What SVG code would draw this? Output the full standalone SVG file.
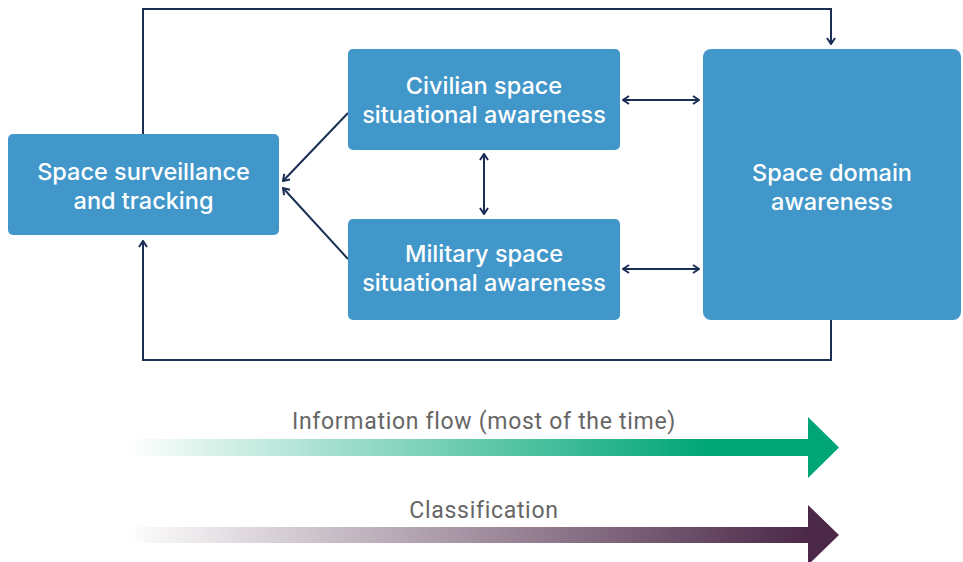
<svg xmlns="http://www.w3.org/2000/svg" width="963" height="562" viewBox="0 0 963 562">
<defs>
<style>
.node{fill:#4297ca;}
.lbl{font-family:Inter,Roboto,"Liberation Sans",sans-serif;font-weight:500;font-size:23.5px;fill:#ffffff;text-anchor:middle;}
.conn{fill:none;stroke:#1b2f55;stroke-width:2;}
.cap{font-family:Roboto,"Liberation Sans",sans-serif;font-size:23px;letter-spacing:0.7px;fill:#666666;text-anchor:middle;}
</style>
<marker id="ah" viewBox="0 0 10 10" refX="9" refY="5" markerWidth="10" markerHeight="10" markerUnits="userSpaceOnUse" orient="auto-start-reverse">
<path d="M3,1 L9,5 L3,9" fill="none" stroke="#1b2f55" stroke-width="2"/>
</marker>
<linearGradient id="gGreen" x1="125" y1="0" x2="808" y2="0" gradientUnits="userSpaceOnUse">
<stop offset="0" stop-color="#00a676" stop-opacity="0"/>
<stop offset="0.85" stop-color="#00a676" stop-opacity="1"/>
<stop offset="1" stop-color="#00a676" stop-opacity="1"/>
</linearGradient>
<linearGradient id="gPurple" x1="125" y1="0" x2="808" y2="0" gradientUnits="userSpaceOnUse">
<stop offset="0" stop-color="#4b2847" stop-opacity="0"/>
<stop offset="1" stop-color="#4b2847" stop-opacity="1"/>
</linearGradient>
</defs>
<rect width="963" height="562" fill="#ffffff"/>
<g id="connectors">
<polyline class="conn" points="143,134 143,9 831,9 831,44" marker-end="url(#ah)"/>
<polyline class="conn" points="831,320 831,360 143,360 143,241" marker-end="url(#ah)"/>
<line class="conn" x1="623" y1="100" x2="699" y2="100" marker-start="url(#ah)" marker-end="url(#ah)"/>
<line class="conn" x1="623" y1="269" x2="699" y2="269" marker-start="url(#ah)" marker-end="url(#ah)"/>
<line class="conn" x1="484" y1="154" x2="484" y2="214" marker-start="url(#ah)" marker-end="url(#ah)"/>
<line class="conn" x1="348" y1="113" x2="283" y2="181" marker-end="url(#ah)"/>
<line class="conn" x1="348" y1="259" x2="283" y2="188" marker-end="url(#ah)"/>
</g>
<g id="node-sst">
<rect class="node" x="8" y="134" width="271" height="101" rx="5"/>
<text class="lbl" x="143.5" y="180">Space surveillance</text>
<text class="lbl" x="143.5" y="209">and tracking</text>
</g>
<g id="node-civ">
<rect class="node" x="348" y="49" width="272" height="101" rx="5"/>
<text class="lbl" x="484" y="94">Civilian space</text>
<text class="lbl" x="484" y="123">situational awareness</text>
</g>
<g id="node-mil">
<rect class="node" x="348" y="219" width="272" height="101" rx="5"/>
<text class="lbl" x="484" y="262">Military space</text>
<text class="lbl" x="484" y="291">situational awareness</text>
</g>
<g id="node-sda">
<rect class="node" x="703" y="49" width="258" height="271" rx="8"/>
<text class="lbl" x="832" y="181">Space domain</text>
<text class="lbl" x="832" y="210">awareness</text>
</g>
<g id="legend-info">
<path d="M125,439 H808 V417 L839,447.5 L808,478 V456 H125 Z" fill="url(#gGreen)"/>
<text class="cap" x="484" y="429">Information flow (most of the time)</text>
</g>
<g id="legend-class">
<path d="M125,527 H808 V505 L839,535 L808,565 V543 H125 Z" fill="url(#gPurple)"/>
<text class="cap" x="484" y="518">Classification</text>
</g>
</svg>
